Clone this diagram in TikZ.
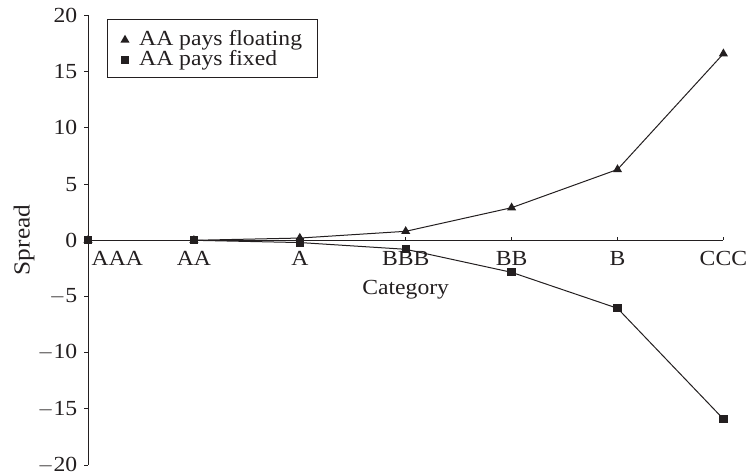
\documentclass[tikz,border=0pt]{standalone}
\usepackage{fontspec}
\setmainfont{Liberation Serif}[FakeStretch=1.1]
\usetikzlibrary{shapes.geometric}
\definecolor{ink}{HTML}{231F20}
\begin{document}
\begin{tikzpicture}[x=1pt,y=-1pt,
  axisline/.style={draw=ink,line width=1pt},
  dataline/.style={draw=ink,line width=1pt},
  tri/.style={regular polygon,regular polygon sides=3,minimum size=10.5pt,inner sep=0pt,fill=ink},
  sq/.style={rectangle,minimum size=8.3pt,inner sep=0pt,fill=ink},
  lbl/.style={font=\fontsize{21.5}{25}\selectfont,text=ink,inner sep=0pt},
  ]
\useasboundingbox (0,0) rectangle (749,476);
% axes
\coordinate (ytop) at (88,15.5);
\coordinate (ybot) at (88,465.1);
\coordinate (xend) at (723.4,240.3);
\draw[axisline] (ytop) -- (ybot);
\draw[axisline] (88,240.3) coordinate (orig) -- (xend);
% y ticks and labels
\foreach \v/\t in {20/20,15/15,10/10,5/5,0/0,-5/$-$5,-10/$-$10,-15/$-$15,-20/$-$20}{
  \draw[axisline] (84,{240.3-\v*11.24}) -- (88,{240.3-\v*11.24});
  \node[lbl,anchor=east] (yl\v) at (77.5,{240.3-\v*11.24}) {\t};
}
% x ticks
\foreach \i in {1,...,6}{
  \draw[axisline] ({88+\i*105.9},237) -- ({88+\i*105.9},240.3);
}
% category labels
\node[lbl,anchor=base west] (c0) at (91.5,265.7) {AAA};
\foreach \i/\n in {1/AA,2/A,3/BBB,4/BB,5/B,6/CCC}{
  \node[lbl,anchor=base] (c\i) at ({88+\i*105.9},265.7) {\n};
}
\node[lbl,anchor=base] (xt) at (405.7,294) {Category};
\node[lbl,anchor=center,rotate=90,font=\fontsize{23}{26}\selectfont] (yt) at (24,240) {Spread};
% data points
\foreach \i/\f/\g in {0/0/0,1/0/0,2/0.2/-0.2,3/0.8/-0.8,4/2.9/-2.85,5/6.3/-6.05,6/16.6/-15.9}{
  \coordinate (f\i) at ({88+\i*105.9},{240.3-\f*11.24});
  \coordinate (s\i) at ({88+\i*105.9},{240.3-\g*11.24});
}
\foreach \i/\j in {0/1,1/2,2/3,3/4,4/5,5/6}{
  \draw[dataline] (f\i) -- (f\j);
  \draw[dataline] (s\i) -- (s\j);
}
\foreach \i in {0,...,6}{
  \node[tri] (ft\i) at (f\i) {};
}
\foreach \i in {0,...,6}{
  \node[sq] (sm\i) at (s\i) {};
}
% legend
\node[draw=ink,line width=1pt,minimum width=210.3pt,minimum height=58pt,inner sep=0pt,anchor=north west] (leg) at (106.7,19) {};
\node[tri] (legtri) at (125,40) {};
\node[sq] (legsq) at (125,60) {};
\node[lbl,anchor=base west] (legt1) at (139,45.5) {AA pays floating};
\node[lbl,anchor=base west] (legt2) at (139,65.5) {AA pays fixed};
\end{tikzpicture}
\end{document}
